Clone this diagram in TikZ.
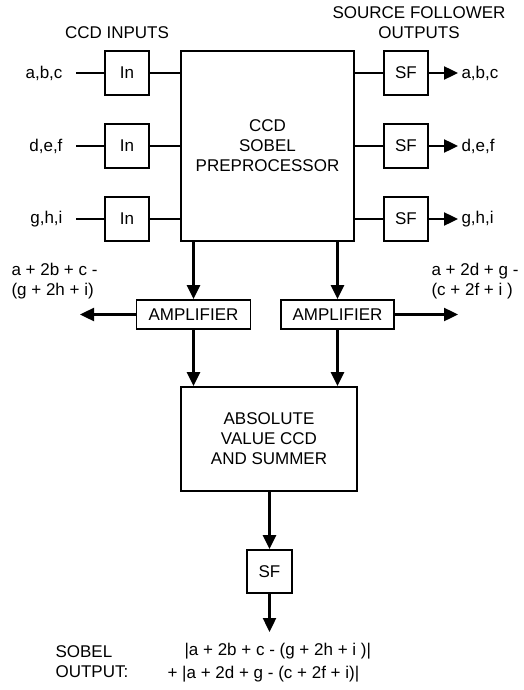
\documentclass[tikz,border=0pt]{standalone}
\usepackage{fontspec}
\setmainfont{Liberation Sans}
\usetikzlibrary{arrows.meta}

\begin{document}
\begin{tikzpicture}[x=1pt,y=-1pt,
    font=\fontsize{17}{20}\selectfont,
    blk/.style={draw,line width=1.8pt,inner sep=0pt,align=center},
    sqbox/.style={blk,minimum width=44,minimum height=44},
    wire/.style={line width=2.4pt},
    arr/.style={wire,-{Triangle[length=14pt,width=13pt]}}]
    \useasboundingbox (0,0) rectangle (524,690);

    % Preprocessor and its inputs / outputs
    \node[blk,minimum width=173,minimum height=190] (prep) at (267.5,146) {CCD\\SOBEL\\PREPROCESSOR};
    \node (intitle) at (117,33) {CCD INPUTS};
    \node[align=center] (outtitle) at (419,23) {SOURCE FOLLOWER\\OUTPUTS};

    \node[sqbox] (in1) at (127,73) {In};
    \node[sqbox] (in2) at (127,146) {In};
    \node[sqbox] (in3) at (127,219) {In};
    \node[sqbox] (sf1) at (406,73) {SF};
    \node[sqbox] (sf2) at (406,146) {SF};
    \node[sqbox] (sf3) at (406,219) {SF};

    \node[anchor=east] (lin1) at (66,73) {a,b,c};
    \node[anchor=east] (lin2) at (66,146) {d,e,f};
    \node[anchor=east] (lin3) at (66,219) {g,h,i};
    \node[anchor=west] (lout1) at (458,73) {a,b,c};
    \node[anchor=west] (lout2) at (458,146) {d,e,f};
    \node[anchor=west] (lout3) at (458,219) {g,h,i};

    \draw[wire] (lin1.east) ++(10,0) -- (in1) -- (in1 -| prep.west);
    \draw[wire] (lin2.east) ++(10,0) -- (in2) -- (in2 -| prep.west);
    \draw[wire] (lin3.east) ++(10,0) -- (in3) -- (in3 -| prep.west);
    \draw[wire] (sf1 -| prep.east) -- (sf1);
    \draw[wire] (sf2 -| prep.east) -- (sf2);
    \draw[wire] (sf3 -| prep.east) -- (sf3);
    \draw[arr] (sf1.east) -- (lout1.west);
    \draw[arr] (sf2.east) -- (lout2.west);
    \draw[arr] (sf3.east) -- (lout3.west);

    % Amplifiers
    \node[blk,minimum width=114,minimum height=29] (amp1) at (193.5,314.5) {AMPLIFIER};
    \node[blk,minimum width=113,minimum height=29] (amp2) at (337.5,314.5) {AMPLIFIER};
    \coordinate (left) at (80,314.5);
    \coordinate (right) at (458,314.5);
    \node[anchor=west,align=left] (diff1) at (8,281) {a + 2b + c -\\(g + 2h + i)};
    \node[anchor=west,align=left] (diff2) at (428,281) {a + 2d + g -\\(c + 2f + i )};

    \draw[arr] (prep.south -| amp1) -- (amp1);
    \draw[arr] (prep.south -| amp2) -- (amp2);
    \draw[arr] (amp1.west) -- (left);
    \draw[arr] (amp2.east) -- (right);

    % Absolute value and summer
    \node[blk,minimum width=176,minimum height=104] (abs) at (269,439) {ABSOLUTE\\VALUE CCD\\AND SUMMER};
    \draw[arr] (amp1.south) -- (amp1 |- abs.north);
    \draw[arr] (amp2.south) -- (amp2 |- abs.north);

    % Output follower
    \node[sqbox,minimum width=45,minimum height=43] (sfo) at (269.5,571.5) {SF};
    \coordinate (out) at (269.5,632);
    \draw[arr] (abs.south -| sfo) -- (sfo);
    \draw[arr] (sfo.south) -- (out);

    \node[anchor=west,align=left] (sobel) at (52,662) {SOBEL\\OUTPUT:};
    \node[anchor=west] (sum1) at (181,651) {|a + 2b + c - (g + 2h + i )|};
    \node[anchor=west] (sum2) at (164,674) {+ |a + 2d + g - (c + 2f + i)|};
\end{tikzpicture}
\end{document}
